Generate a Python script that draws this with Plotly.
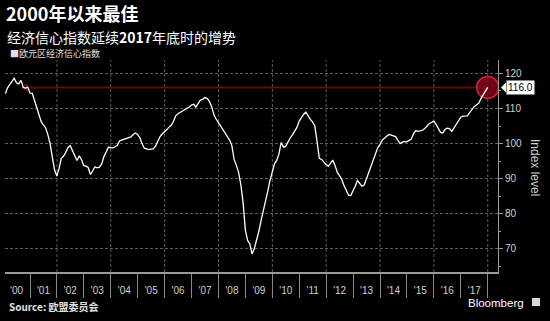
import calendar
import plotly.graph_objects as go

# ---------------- data ----------------
years = list(range(2000, 2018))
esi_2000 = [114.2, 115.8, 116.8, 117.8, 118.6, 117.3, 117.0, 118.0, 116.0, 115.8, 116.1, 114.4]
esi_2001 = [114.3, 112.4, 110.5, 108.4, 106.3, 105.3, 104.5, 102.5, 100.0, 96.0, 92.5, 90.8]
esi_2002 = [93.0, 95.8, 96.4, 97.5, 98.9, 99.4, 97.8, 96.2, 95.2, 96.5, 95.4, 93.7]
esi_2003 = [93.6, 93.2, 91.2, 92.2, 93.4, 93.1, 93.3, 94.2, 96.3, 97.6, 99.0, 98.8]
esi_2004 = [98.8, 99.1, 99.5, 100.8, 101.0, 101.1, 101.4, 101.6, 101.9, 102.6, 103.0, 102.6]
esi_2005 = [101.6, 100.0, 98.7, 98.5, 98.3, 98.4, 98.5, 99.3, 100.6, 102.0, 102.8, 103.3]
esi_2006 = [104.0, 104.7, 105.2, 106.3, 107.9, 108.5, 108.9, 109.2, 109.5, 109.9, 110.4, 111.0]
esi_2007 = [111.2, 110.4, 111.6, 112.4, 112.6, 113.1, 112.9, 112.0, 110.6, 108.2, 107.0, 106.0]
esi_2008 = [105.2, 104.3, 103.0, 102.0, 101.0, 99.5, 95.5, 93.8, 91.8, 88.2, 83.2, 75.3]
esi_2009 = [72.4, 71.5, 68.6, 70.0, 72.3, 74.9, 78.0, 80.6, 83.3, 86.5, 89.5, 91.8]
esi_2010 = [94.3, 95.2, 97.0, 100.3, 99.0, 99.2, 100.6, 101.6, 102.5, 103.6, 104.6, 106.4]
esi_2011 = [107.6, 108.3, 109.0, 107.8, 106.9, 106.2, 105.0, 100.5, 95.8, 95.5, 94.8, 94.0]
esi_2012 = [93.6, 94.5, 95.3, 93.8, 91.8, 90.9, 89.8, 88.0, 86.5, 85.3, 85.2, 86.5]
esi_2013 = [88.0, 89.5, 88.8, 87.9, 88.2, 90.0, 92.0, 93.4, 95.5, 97.5, 98.8, 99.8]
esi_2014 = [101.0, 101.5, 102.2, 102.6, 102.4, 102.3, 102.0, 100.9, 100.0, 100.4, 100.6, 100.5]
esi_2015 = [101.0, 101.3, 102.8, 103.7, 103.5, 103.6, 103.8, 104.3, 105.0, 105.7, 106.0, 106.4]
esi_2016 = [105.5, 104.3, 103.2, 103.0, 104.0, 104.4, 104.3, 103.5, 104.5, 105.6, 106.5, 107.5]
esi_2017 = [107.8, 107.9, 107.9, 108.8, 109.8, 110.5, 111.0, 111.5, 112.8, 113.9, 114.6, 116.0]

year_labels = ["'00", "'01", "'02", "'03", "'04", "'05", "'06", "'07", "'08",
               "'09", "'10", "'11", "'12", "'13", "'14", "'15", "'16", "'17"]
y_ticks = [70, 80, 90, 100, 110, 120]
latest_value = 116.0
latest_label = "116.0"

esi_values = (esi_2000 + esi_2001 + esi_2002 + esi_2003 + esi_2004 + esi_2005 +
              esi_2006 + esi_2007 + esi_2008 + esi_2009 + esi_2010 + esi_2011 +
              esi_2012 + esi_2013 + esi_2014 + esi_2015 + esi_2016 + esi_2017)
dates = []
for y in years:
    for m in range(1, 13):
        d = calendar.monthrange(y, m)[1]
        dates.append(f"{y}-{m:02d}-{d:02d}")

# ---------------- layout helpers ----------------
W, H = 550, 321
ML, MR, MT, MB = 5, 52, 60, 49
PW, PH = W - ML - MR, H - MT - MB


def px(x):
    return (x - ML) / PW


def py(y):
    return (H - MB - y) / PH


LAT = "Liberation Sans, Arial, sans-serif"
CJK = "Noto Sans CJK SC, sans-serif"
GRID = "#5c5c5c"
AX = "#9a9a9a"
TXT = "#cfcfcf"

fig = go.Figure()

# reference line at latest level
fig.add_trace(go.Scatter(
    x=[dates[9], dates[-1]], y=[latest_value, latest_value], mode="lines",
    line=dict(color="rgba(105,12,16,0.9)", width=2),
    hoverinfo="skip", showlegend=False))
fig.add_trace(go.Scatter(
    x=[dates[9]], y=[latest_value], mode="markers",
    marker=dict(symbol="triangle-left-open", size=6, color="rgba(190,30,30,0.85)",
                line=dict(width=1)),
    hoverinfo="skip", showlegend=False))
# highlight circle
fig.add_trace(go.Scatter(
    x=[dates[-1]], y=[esi_values[-1]], mode="markers",
    marker=dict(size=22, color="rgba(125,8,24,0.88)",
                line=dict(color="#c8243a", width=1.5)),
    hoverinfo="skip", showlegend=False))
# main series
fig.add_trace(go.Scatter(
    x=dates, y=esi_values, mode="lines",
    line=dict(color="#ffffff", width=1.3),
    showlegend=False))

tickvals_x = [f"{y}-07-02" for y in years]
year_bounds = [f"{y}-01-01" for y in range(2001, 2019)]
grid_years = [f"{y}-01-01" for y in range(2002, 2019, 2)]

shapes = []
for g in grid_years:
    shapes.append(dict(type="line", xref="x", yref="paper", x0=g, x1=g, y0=0, y1=1,
                       line=dict(color=GRID, width=1, dash="3px,2px"), layer="below"))
# arrow of value label
shapes.append(dict(type="path", xref="paper", yref="y", xsizemode="pixel",
                   ysizemode="pixel", xanchor=1, yanchor=latest_value,
                   path="M 3 0 L 8 5 L 8 -5 Z", fillcolor="white",
                   line=dict(width=0)))
# Bloomberg icon
shapes.append(dict(type="rect", xref="paper", yref="paper",
                   x0=px(532), x1=px(540), y0=py(306), y1=py(298),
                   fillcolor="#d8d8d8", line=dict(width=0)))

annotations = [
    dict(text="<b>2000年以来最佳</b>", x=px(4), y=py(13), xref="paper", yref="paper",
         xanchor="left", yanchor="middle", showarrow=False,
         font=dict(family=CJK, size=18, color="white")),
    dict(text="经济信心指数延续<b>2017</b>年底时的增势", x=px(5), y=py(37), xref="paper",
         yref="paper", xanchor="left", yanchor="middle", showarrow=False,
         font=dict(family=CJK, size=14, color="white")),
    dict(text="■欧元区经济信心指数", x=px(8), y=py(54), xref="paper", yref="paper",
         xanchor="left", yanchor="middle", showarrow=False,
         font=dict(family=CJK, size=9, color="#e0e0e0")),
    dict(text="<b>Source: 欧盟委员会</b>", x=px(7), y=py(306), xref="paper", yref="paper",
         xanchor="left", yanchor="middle", showarrow=False,
         font=dict(family=CJK, size=10, color="#e0e0e0")),
    dict(text="Bloomberg", x=px(526), y=py(303), xref="paper", yref="paper",
         xanchor="right", yanchor="middle", showarrow=False,
         font=dict(family=LAT, size=11.5, color="white")),
    dict(text="Index level", x=px(535), y=py(167), xref="paper", yref="paper",
         xanchor="center", yanchor="middle", showarrow=False, textangle=90,
         font=dict(family=LAT, size=12, color=TXT)),
    dict(text=latest_label, x=1, y=latest_value, xref="paper", yref="y",
         xanchor="left", yanchor="middle", xshift=8, showarrow=False,
         bgcolor="white", borderpad=1,
         font=dict(family=LAT, size=10, color="black")),
]

fig.update_layout(
    width=W, height=H,
    margin=dict(l=ML, r=MR, t=MT, b=MB),
    paper_bgcolor="black", plot_bgcolor="black",
    shapes=shapes, annotations=annotations,
    xaxis=dict(
        type="date", range=["2000-01-27", "2018-05-20"],
        tickmode="array", tickvals=tickvals_x, ticktext=year_labels,
        ticks="outside", ticklen=8, tickcolor="rgba(0,0,0,0)",
        tickfont=dict(family=LAT, size=10, color=TXT),
        showgrid=False, zeroline=False,
        showline=True, linecolor=AX, linewidth=1.5,
        minor=dict(tickmode="array", tickvals=year_bounds, ticks="outside",
                   ticklen=24, tickcolor="#8a8a8a", tickwidth=1, showgrid=False),
    ),
    yaxis=dict(
        side="right", range=[63.45, 123.8],
        tickmode="array", tickvals=y_ticks,
        ticks="outside", ticklen=4, tickcolor=AX,
        tickfont=dict(family=LAT, size=10, color=TXT),
        showgrid=True, gridcolor=GRID, griddash="3px,2px", gridwidth=1,
        zeroline=False, showline=True, linecolor=AX, linewidth=1,
        minor=dict(tickmode="linear", tick0=65, dtick=10, ticks="outside",
                   ticklen=2, tickcolor=AX, showgrid=False),
    ),
    hovermode=False,
)

fig.write_html("out.html")
